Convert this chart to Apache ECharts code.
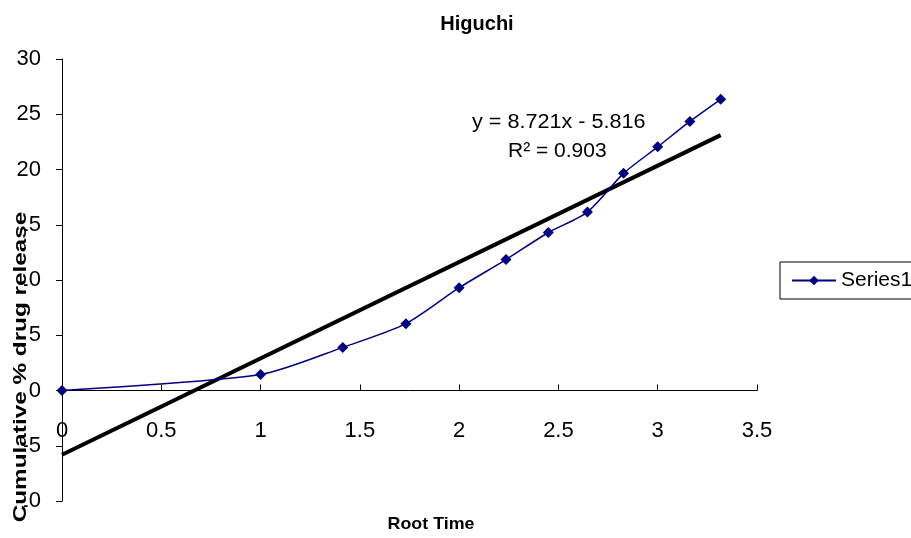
<!DOCTYPE html>
<html><head><meta charset="utf-8">
<script src="https://cdn.jsdelivr.net/npm/echarts@6/dist/echarts.min.js"></script>
<style>html,body{margin:0;padding:0;background:#fff}#c{width:911px;height:538px}</style>
</head><body><div id="c"></div>
<script>
var rootTime = [0, 1, 1.414, 1.732, 2, 2.236, 2.449, 2.646, 2.828, 3, 3.162, 3.317];
var release = [0, 1.45, 3.9, 6.05, 9.3, 11.85, 14.3, 16.15, 19.65, 22.05, 24.35, 26.35];
var trendSlope = 8.721, trendIntercept = -5.816;
var trendX = [0, 3.317];
var eqText = ['y = 8.721x - 5.816', 'R² = 0.903'];
var yTitle = 'Cumulative % drug release';
var xTitle = 'Root Time';
var FONT = '"Liberation Sans", Arial, sans-serif';

var seriesData = rootTime.map(function(x, i){ return [x, release[i]]; });
var trendData = trendX.map(function(x){ return [x, trendSlope * x + trendIntercept]; });

var chart = echarts.init(document.getElementById('c'));
chart.setOption({
  animation: false,
  title: { text: 'Higuchi', left: 472, top: 9, textAlign: 'center',
    textStyle: { fontFamily: FONT, fontSize: 20, fontWeight: 'bold', color: '#000' } },
  grid: { left: 62, right: 154, top: 59, bottom: 37, containLabel: false, outerBoundsMode: 'none' },
  legend: {
    left: 780, top: 262, orient: 'vertical',
    data: ['Series1'],
    borderColor: '#000', borderWidth: 1,
    padding: [8, 40, 8, 11],
    itemWidth: 44, itemHeight: 12, itemGap: 6,
    textStyle: { fontFamily: FONT, fontSize: 21, color: '#000' }
  },
  xAxis: {
    type: 'value', min: 0, max: 3.5, interval: 0.5,
    axisLine: { onZero: true, lineStyle: { color: '#000', width: 1 } },
    axisTick: { inside: true, length: 6, lineStyle: { color: '#000' } },
    axisLabel: { margin: -81, fontFamily: FONT, fontSize: 22, color: '#000' },
    splitLine: { show: false }
  },
  yAxis: {
    type: 'value', min: -10, max: 30, interval: 5,
    axisLine: { show: true, onZero: false, lineStyle: { color: '#000', width: 1 } },
    axisTick: { show: true, length: 6, lineStyle: { color: '#000' } },
    axisLabel: { margin: 21, fontFamily: FONT, fontSize: 22, color: '#000' },
    splitLine: { show: false }
  },
  series: [
    {
      name: 'trend', type: 'line', data: trendData, symbol: 'none',
      lineStyle: { color: '#000', width: 4 }, z: 2, silent: true
    },
    {
      name: 'Series1', type: 'line', data: seriesData, smooth: 0.25,
      symbol: 'diamond', symbolSize: 11,
      itemStyle: { color: '#000080' },
      lineStyle: { color: '#000080', width: 1.5 }, z: 3
    }
  ],
  graphic: [
    { type: 'text', left: 472, top: 112, scaleX: 1.08, style: { text: eqText[0], fontFamily: FONT, fontSize: 20, fill: '#000' } },
    { type: 'text', left: 508, top: 141, scaleX: 1.05, style: { text: eqText[1], fontFamily: FONT, fontSize: 20, fill: '#000' } },
    { type: 'rect', shape: { x: 9, y: 212, width: 15, height: 308 }, style: { fill: '#fff' }, z: 50 },
    { type: 'text', x: 21, y: 367, rotation: Math.PI / 2, scaleX: 1.35, z: 51,
      style: { text: yTitle, fontFamily: FONT, fontSize: 18, fontWeight: 'bold', fill: '#000', align: 'center', verticalAlign: 'middle' } },
    { type: 'text', x: 431, y: 524, scaleX: 1.05, z: 51,
      style: { text: xTitle, fontFamily: FONT, fontSize: 17, fontWeight: 'bold', fill: '#000', align: 'center', verticalAlign: 'middle' } }
  ]
});
</script></body></html>
